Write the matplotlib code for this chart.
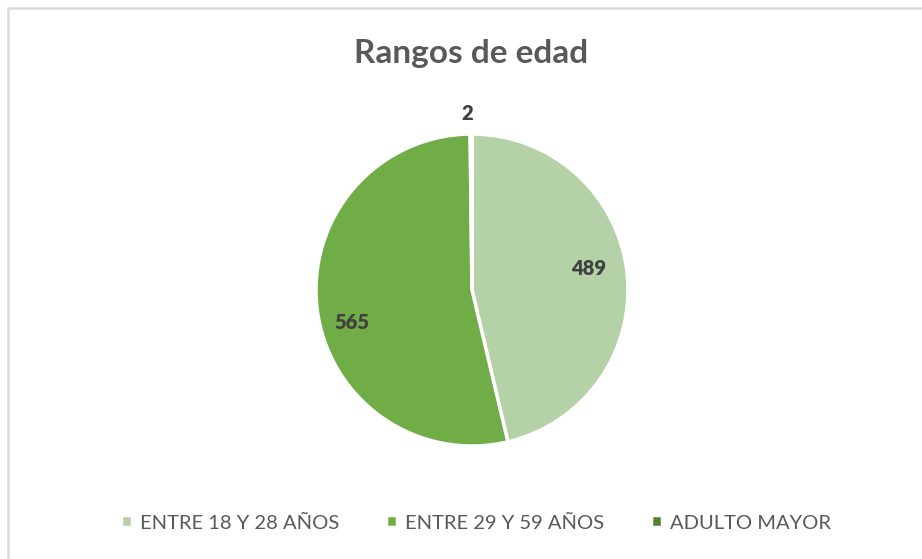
import matplotlib.pyplot as plt
from matplotlib.patches import Rectangle

# datos
categorias = ['ENTRE 18 Y 28 AÑOS', 'ENTRE 29 Y 59 AÑOS', 'ADULTO MAYOR']
valores = [489, 565, 2]
colores = ['#B5D1A8', '#70AD47', '#548235']

plt.rcParams['font.family'] = ['Lato', 'DejaVu Sans']

W, H = 922, 559
fig = plt.figure(figsize=(W / 100, H / 100), dpi=100)

# marco gris del grafico (se sale por la derecha y abajo)
fig.patches.append(Rectangle((8 / W, -0.1), 1.2, 1 - 8 / H + 0.1,
                             transform=fig.transFigure, fill=False,
                             edgecolor='#D9D9D9', linewidth=1.8))

cx, cy, r = 472, 290, 156
ax = fig.add_axes([(cx - r) / W, 1 - (cy + r) / H, 2 * r / W, 2 * r / H])
wedges, _ = ax.pie(valores, colors=colores, startangle=90, counterclock=False,
                   radius=1, wedgeprops=dict(edgecolor='white', linewidth=2.5))
ax.set_xlim(-1, 1)
ax.set_ylim(-1, 1)
ax.set_aspect('equal')
ax.axis('off')

# etiquetas de datos
pos = [(0.75, 0.14), (-0.77, -0.21), (-0.03, 1.13)]
for v, (x, y) in zip(valores, pos):
    ax.text(x, y, str(v), ha='center', va='center', fontsize=14.5,
            fontweight='heavy', color='#404040')

fig.text(471 / W, 1 - 53 / H, 'Rangos de edad', ha='center', va='center',
         fontsize=24, fontweight='bold', color='#595959')

leg = fig.legend(wedges, categorias, loc='center', bbox_to_anchor=(476 / W, 1 - 523 / H),
                 ncol=3, frameon=False, fontsize=14.5, handlelength=0.55,
                 handleheight=0.55, handletextpad=0.4, columnspacing=2.3)
for t in leg.get_texts():
    t.set_color('#595959')

fig.savefig('out.png', dpi=100)
